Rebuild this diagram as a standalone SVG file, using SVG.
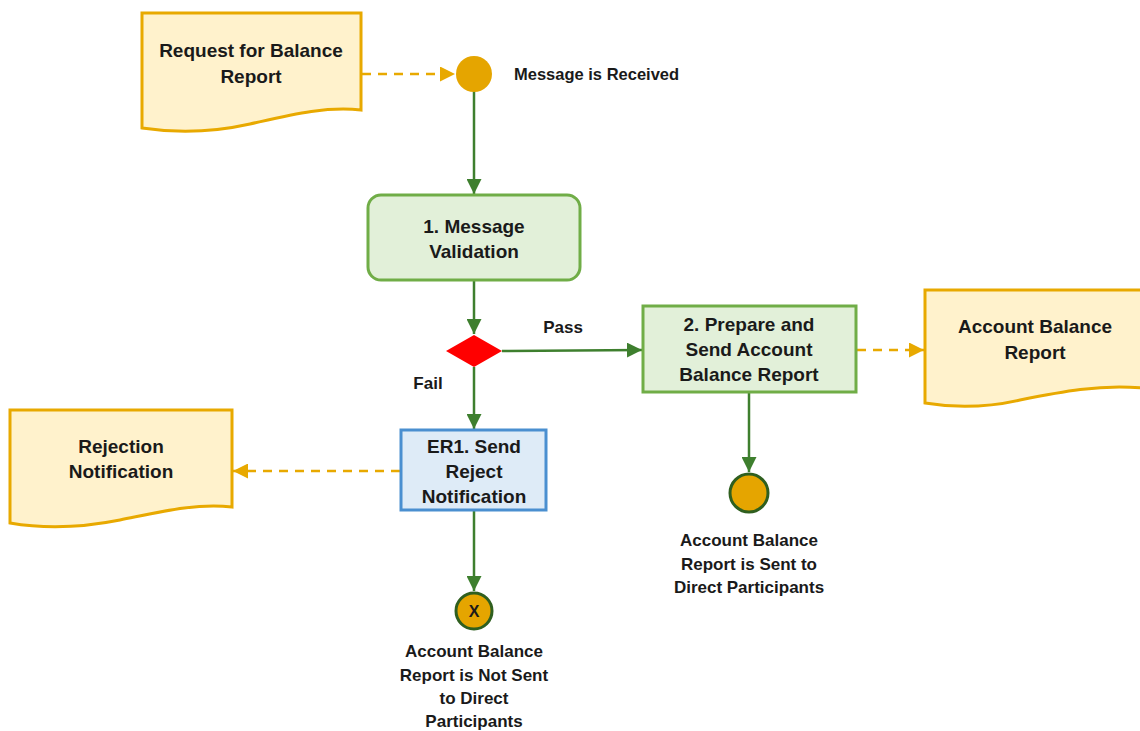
<svg xmlns="http://www.w3.org/2000/svg" width="1140" height="731" viewBox="0 0 1140 731">
<style>
text{font-family:"Liberation Sans",Arial,sans-serif;font-weight:bold;font-size:19px;fill:#1a1a1a;text-anchor:middle}
.lbl{font-size:17px}
.doc{fill:#FFF2CC;stroke:#E8A900;stroke-width:3}
.task{fill:#E2F0D9;stroke:#70AD47;stroke-width:3}
.err{fill:#DEEBF7;stroke:#4A8FD0;stroke-width:3}
.flow{stroke:#3E7F2E;stroke-width:2.5;fill:none}
.data{stroke:#E8A900;stroke-width:2.5;fill:none;stroke-dasharray:9 7}
.evt{fill:#E5A500;stroke:#2F5F1F;stroke-width:3}
</style>
<defs>
<marker id="ga" viewBox="0 0 10 10" refX="10" refY="5" markerWidth="6" markerHeight="6" orient="auto" markerUnits="strokeWidth"><path d="M0,0 L10,5 L0,10 Z" fill="#3E7F2E"/></marker>
<marker id="oa" viewBox="0 0 10 10" refX="10" refY="5" markerWidth="6" markerHeight="6" orient="auto" markerUnits="strokeWidth"><path d="M0,0 L10,5 L0,10 Z" fill="#E8A900"/></marker>
</defs>
<g id="connectors">
<line class="data" x1="362" y1="74" x2="455" y2="74" marker-end="url(#oa)"/>
<line class="flow" x1="474" y1="91" x2="474" y2="194" marker-end="url(#ga)"/>
<line class="flow" x1="474" y1="281" x2="474" y2="334" marker-end="url(#ga)"/>
<line class="flow" x1="502" y1="351" x2="642" y2="350" marker-end="url(#ga)"/>
<line class="data" x1="857" y1="350" x2="924" y2="350" marker-end="url(#oa)"/>
<line class="flow" x1="474" y1="367" x2="474" y2="429" marker-end="url(#ga)"/>
<line class="data" x1="400" y1="471" x2="233" y2="471" marker-end="url(#oa)"/>
<line class="flow" x1="474" y1="511" x2="474" y2="591" marker-end="url(#ga)"/>
<line class="flow" x1="749" y1="393" x2="749" y2="472" marker-end="url(#ga)"/>
<text class="lbl" x="563" y="333">Pass</text>
<text class="lbl" x="428" y="389">Fail</text>
</g>
<g id="request-doc">
<path class="doc" d="M142,13 H361 V110 C325,106 290,115 250,124 C210,133 175,133 142,128 Z"/>
<text x="251" y="57">Request for Balance</text>
<text x="251" y="83">Report</text>
</g>
<g id="start-event">
<circle cx="474" cy="74" r="18" fill="#E5A500"/>
<text x="514" y="80" style="text-anchor:start;font-size:16.5px">Message is Received</text>
</g>
<g id="validation">
<rect class="task" x="368" y="195" width="212" height="85" rx="13"/>
<text x="474" y="233">1. Message</text>
<text x="474" y="258">Validation</text>
</g>
<g id="gateway">
<polygon points="474,335 502,351 474,367 446,351" fill="#FF0000"/>
</g>
<g id="prepare">
<rect class="task" x="643" y="306" width="213" height="86"/>
<text x="749" y="331">2. Prepare and</text>
<text x="749" y="356">Send Account</text>
<text x="749" y="381">Balance Report</text>
</g>
<g id="balance-doc">
<path class="doc" d="M925,290 H1142 V388 C1100,384 1060,392 1020,400 C985,408 955,408 925,403 Z"/>
<text x="1035" y="333">Account Balance</text>
<text x="1035" y="359">Report</text>
</g>
<g id="sent-event">
<circle class="evt" cx="749" cy="493" r="19"/>
<text class="lbl" x="749" y="546">Account Balance</text>
<text class="lbl" x="749" y="570">Report is Sent to</text>
<text class="lbl" x="749" y="593">Direct Participants</text>
</g>
<g id="reject">
<rect class="err" x="401" y="430" width="145" height="80"/>
<text x="474" y="453">ER1. Send</text>
<text x="474" y="478">Reject</text>
<text x="474" y="503">Notification</text>
</g>
<g id="rejection-doc">
<path class="doc" d="M10,410 H232 V507 C195,503 160,512 120,520 C80,528 45,529 10,523 Z"/>
<text x="121" y="453">Rejection</text>
<text x="121" y="478">Notification</text>
</g>
<g id="not-sent-event">
<circle class="evt" cx="474" cy="611" r="18"/>
<text x="474" y="617" style="font-size:16px">X</text>
<text class="lbl" x="474" y="657">Account Balance</text>
<text class="lbl" x="474" y="681">Report is Not Sent</text>
<text class="lbl" x="474" y="704">to Direct</text>
<text class="lbl" x="474" y="727">Participants</text>
</g>
</svg>
